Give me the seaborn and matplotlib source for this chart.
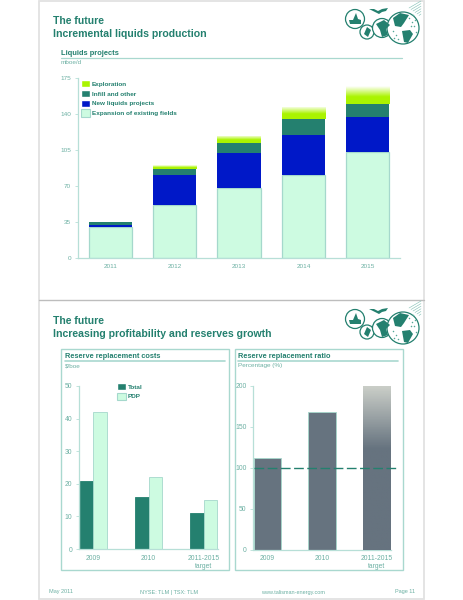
import numpy as np
import pandas as pd
import matplotlib
matplotlib.use('Agg')
import matplotlib.pyplot as plt
from matplotlib.patches import Circle, Polygon, Patch, Rectangle
from matplotlib.colors import LinearSegmentedColormap
import seaborn as sns

years = ['2011', '2012', '2013', '2014', '2015']
expansion = [30, 52, 68, 81, 103]
new_liquids = [2, 29, 34, 39, 34]
infill = [3, 6, 10, 15, 13]
exploration = [0, 3, 7, 12, 17]
liquids_ticks = [0, 35, 70, 105, 140, 175]

cost_labels = ['2009', '2010', '2011-2015\ntarget']
cost_total = [21, 16, 11]
cost_pdp = [42, 22, 15]
cost_ticks = [0, 10, 20, 30, 40, 50]

ratio_values = [112, 168, 200]
ratio_ticks = [0, 50, 100, 150, 200]
ratio_target = 100

TEAL = '#24806f'
TICK = '#6cb0a3'
LINE = '#a9d8cf'
MINT = '#cdfbe1'
BLUE = '#0018c8'
SLATE = '#66737f'
W, H = 464, 600

sns.set_theme(style='white')
plt.rcParams['font.family'] = ['Liberation Sans', 'DejaVu Sans']

fig = plt.figure(figsize=(W / 100, H / 100), dpi=100, facecolor='white')


def make_axes(left, right, top, bottom):
    return fig.add_axes([left / W, 1 - bottom / H, (right - left) / W, (bottom - top) / H])


def style_axes(ax, ticks, ymax, size=4.6):
    ax.set_ylim(0, ymax)
    ax.set_yticks(ticks)
    ax.set_xlabel('')
    ax.set_ylabel('')
    ax.patch.set_alpha(0)
    sns.despine(ax=ax)
    for side in ['left', 'bottom']:
        ax.spines[side].set_color('#b7dfd7')
        ax.spines[side].set_linewidth(0.9)
    ax.tick_params(axis='y', length=2, width=0.6, color='#b7dfd7', labelsize=size,
                   labelcolor=TICK, pad=3, left=True)
    ax.tick_params(axis='x', length=0, labelsize=size, labelcolor=TICK, pad=4, bottom=False)
    for label in ax.get_xticklabels():
        label.set_linespacing(1.25)


def fade_bar(ax, bar, cmap):
    # gradient image clipped to the bar, so it follows the data scale
    x0, y0 = bar.get_x(), bar.get_y()
    im = ax.imshow(np.linspace(1, 0, 64).reshape(-1, 1), cmap=cmap, aspect='auto', zorder=3,
                   extent=(x0, x0 + bar.get_width(), y0, y0 + bar.get_height()))
    im.set_clip_path(bar)


def add_legend(ax, handles, anchor):
    ax.legend(handles=handles, loc='upper left', bbox_to_anchor=anchor, frameon=False,
              handlelength=1.41, handleheight=1.43, handletextpad=0.31, labelspacing=0.36,
              borderaxespad=0, borderpad=0, labelcolor=TEAL, prop={'size': 4.6, 'weight': 'bold'})


# page frame and furniture, in pixel coordinates
page = fig.add_axes([0, 0, 1, 1])
page.set_xlim(0, W)
page.set_ylim(H, 0)
page.axis('off')
page.add_patch(Rectangle((39.5, 0.5), 385, 598.5, fill=False, ec='#e2e2e2', lw=1.3))
page.plot([39.5, 424.5], [299.5, 299.5], color='#bdbdbd', lw=1)
page.add_patch(Rectangle((61.5, 349), 167.5, 221, fill=False, ec=LINE, lw=1))
page.add_patch(Rectangle((235.5, 349), 168, 221, fill=False, ec=LINE, lw=1))


def logo(dy):
    for k in range(6):
        page.plot([409 + 2 * k, 421], [8 + dy + 1.5 * k, 8 + dy - 2 + 1.6 * k - (5 - k)], color='#7fbfb2', lw=0.4, zorder=3)
    for cx, cy, r in [(355, 19, 9.5), (367, 32, 7), (382, 28, 9.5), (403, 28, 16)]:
        page.add_patch(Circle((cx, cy + dy), r, fc='white', ec=TEAL, lw=0.9, zorder=4))
    blobs = [
        [(349, 20), (353, 20), (356, 13), (358, 19), (361, 20), (361, 24), (350, 24)],
        [(364, 34), (367, 27), (371, 30), (368, 37)],
        [(376, 24), (384, 20), (390, 25), (386, 29), (388, 35), (382, 37), (380, 30)],
        [(393, 18), (400, 13), (409, 15), (404, 23), (401, 27), (395, 26)],
        [(402, 31), (410, 30), (413, 34), (408, 43), (404, 42)],
    ]
    for pts in blobs:
        page.add_patch(Polygon([(x, y + dy) for x, y in pts], fc=TEAL, ec='none', zorder=5))
    bat = [(369, 9), (374, 9), (378, 11), (382, 9), (388, 8), (386, 11), (382, 12), (379, 14), (375, 12)]
    page.add_patch(Polygon([(x, y + dy) for x, y in bat], fc=TEAL, ec='none', zorder=5))
    # stippled land on the big globe
    page.scatter([409, 412, 414, 411, 415, 393, 396, 398, 394, 416, 413],
                 [18 + dy, 22 + dy, 26 + dy, 26 + dy, 20 + dy, 31 + dy, 35 + dy, 39 + dy, 38 + dy, 32 + dy, 15 + dy],
                 s=1.2, color='#55a896', linewidths=0, zorder=5)


logo(0)
logo(300)

for y, s in [(21, 'The future'), (34, 'Incremental liquids production'),
             (321, 'The future'), (334, 'Increasing profitability and reserves growth')]:
    page.text(53, y, s, color=TEAL, fontsize=7.6, fontweight='bold', va='center', ha='left')

page.text(61, 53.5, 'Liquids projects', color=TEAL, fontsize=5.4, fontweight='bold', va='center')
page.plot([61, 402], [57.7, 57.7], color=LINE, lw=0.9)
page.text(61, 62, 'mboe/d', color=TICK, fontsize=4.6, va='center')

page.text(65, 356.5, 'Reserve replacement costs', color=TEAL, fontsize=5.35, fontweight='bold', va='center')
page.plot([65, 225], [361, 361], color=LINE, lw=1.2)
page.text(65, 365.5, '$/boe', color=TICK, fontsize=4.6, va='center')

page.text(238, 356.5, 'Reserve replacement ratio', color=TEAL, fontsize=5.35, fontweight='bold', va='center')
page.plot([238, 398], [361, 361], color=LINE, lw=1.2)
page.text(238, 365.5, 'Percentage (%)', color=TICK, fontsize=4.6, va='center')

page.text(49, 592, 'May 2011', color=TICK, fontsize=4.0, va='center')
page.text(140, 592.5, 'NYSE: TLM | TSX: TLM', color=TICK, fontsize=4.0, va='center')
page.text(261, 592.5, 'www.talisman-energy.com', color=TICK, fontsize=4.0, va='center')
page.text(395, 592, 'Page 11', color=TICK, fontsize=4.0, va='center')

# Liquids projects: stacked bars
ax1 = make_axes(78, 400, 78, 258)
bottom = np.zeros(len(years))
layers = [(expansion, MINT, '#a5d8cc', 0.9), (new_liquids, BLUE, BLUE, 0), (infill, TEAL, TEAL, 0),
          (exploration, '#aaf400', '#aaf400', 0)]
n_before = 0
for vals, fc, ec, lw in layers:
    sns.barplot(x=years, y=vals, color=fc, width=0.67, saturation=1, bottom=bottom,
                edgecolor=ec, linewidth=lw, ax=ax1)
    n_before = len(ax1.patches) - len(years)
    bottom = bottom + np.array(vals)
green_fade = LinearSegmentedColormap.from_list('fade', [(0, '#aaf400'), (0.4, '#aaf400'), (1, 'white')])
for bar in ax1.patches[n_before:]:
    if bar.get_height() > 0:
        fade_bar(ax1, bar, green_fade)
ax1.set_xlim(-0.5, 4.5)
style_axes(ax1, liquids_ticks, 175)
add_legend(ax1, [Patch(fc='#aaf400', label='Exploration'), Patch(fc=TEAL, label='Infill and other'),
                 Patch(fc=BLUE, label='New liquids projects'),
                 Patch(fc=MINT, ec='#a5d8cc', lw=0.8, label='Expansion of existing fields')],
           (0.009, 0.989))

# Reserve replacement costs: grouped bars
costs = pd.DataFrame({'period': cost_labels * 2, 'value': cost_total + cost_pdp,
                      'series': ['Total'] * 3 + ['PDP'] * 3})
ax2 = make_axes(79, 218, 386, 549)
sns.barplot(data=costs, x='period', y='value', hue='series', palette={'Total': TEAL, 'PDP': MINT},
            width=0.5, gap=0, saturation=1, edgecolor='#a5d8cc', linewidth=0.6, ax=ax2)
for bar in ax2.containers[0]:
    bar.set_edgecolor(TEAL)
ax2.set_xlim(-0.26, 2.26)
style_axes(ax2, cost_ticks, 50, size=4.9)
add_legend(ax2, [Patch(fc=TEAL, label='Total'), Patch(fc=MINT, ec='#a5d8cc', lw=0.8, label='PDP')],
           (0.27, 1.02))

# Reserve replacement ratio
ax3 = make_axes(253.5, 390.5, 386, 549.5)
sns.barplot(x=cost_labels, y=ratio_values, color=SLATE, width=0.5, saturation=1,
            edgecolor='#a5d8cc', linewidth=0.6, ax=ax3)
ax3.set_xlim(-0.25, 2.25)
style_axes(ax3, ratio_ticks, 200, size=4.9)
grey_fade = LinearSegmentedColormap.from_list('fade2', [(0, SLATE), (0.62, SLATE), (1, '#c9cdc7')])
fade_bar(ax3, ax3.patches[2], grey_fade)
ax3.set_xlim(-0.25, 2.25)
ax3.set_ylim(0, 200)
sns.lineplot(x=[-0.25, 2.38], y=[ratio_target, ratio_target], color=TEAL, lw=1, ax=ax3,
             dashes=(7, 2.5), clip_on=False, zorder=5, errorbar=None)

fig.savefig('out.png', dpi=100)
